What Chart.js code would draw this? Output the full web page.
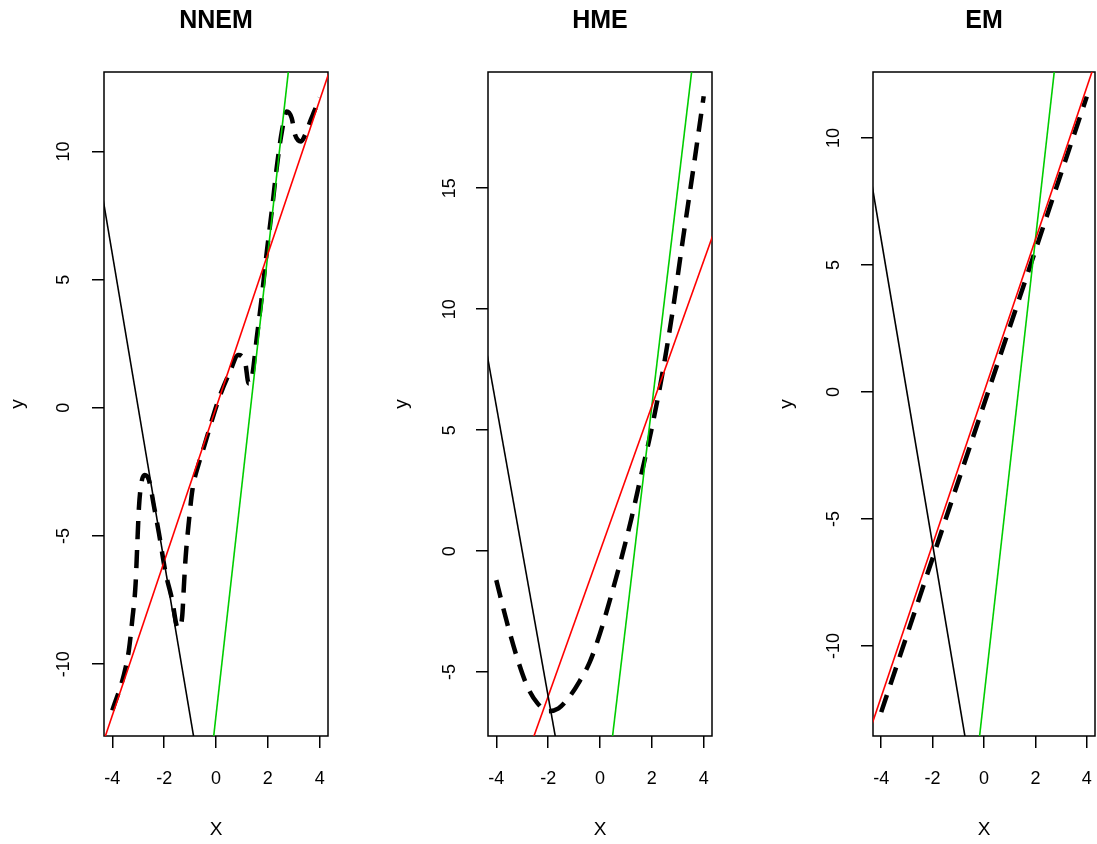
<!DOCTYPE html>
<html>
<head>
<meta charset="utf-8">
<title>NNEM / HME / EM</title>
<script src="https://cdn.jsdelivr.net/npm/chart.js@4.4.1/dist/chart.umd.min.js"></script>
<style>
  html, body { margin: 0; padding: 0; background: #fff; }
  #wrap { position: relative; width: 1097px; height: 844px; overflow: hidden; background: #fff; }
  canvas { position: absolute; top: 0; }
</style>
</head>
<body>
<div id="wrap">
  <canvas id="nnem" width="349" height="844" style="left:-1px"></canvas>
  <canvas id="hme" width="349" height="844" style="left:383px"></canvas>
  <canvas id="em" width="329" height="844" style="left:768px"></canvas>
</div>
<script>
// tick labels
const xTicks = [-4, -2, 0, 2, 4];
const nnemYTicks = [-10, -5, 0, 5, 10];
const hmeYTicks = [-5, 0, 5, 10, 15];
const emYTicks = [-10, -5, 0, 5, 10];

// the three expert lines (two points read on each, same in every panel)
const blackLineX = [-5, 0];
const blackLineY = [12, -18];
const redLineX = [-5, 5];
const redLineY = [-15, 15];
const greenLineX = [-1, 4];
const greenLineY = [-21, 24];

// fitted curves (dashed)
const nnemX = [-4.0, -3.55, -3.36, -3.23, -3.1, -3.04, -2.97, -2.88, -2.75, -2.59, -2.39, -2.2, -1.94, -1.69,
  -1.52, -1.43, -1.3, -1.24, -1.17, -1.04, -0.91, -0.66, -0.46, 0.09, 0.54, 0.86, 1.12, 1.26, 1.38, 1.57,
  1.76, 1.96, 2.15, 2.34, 2.54, 2.73, 2.92, 3.05, 3.28, 3.44, 3.63, 3.8, 4.0];
const nnemY = [-11.8, -10.4, -9.45, -8.28, -6.85, -5.42, -3.85, -2.94, -2.62, -2.81, -3.85, -4.9, -6.46, -7.5,
  -8.48, -8.6, -8.09, -6.98, -5.81, -4.38, -3.2, -2.16, -1.51, 0.3, 1.41, 2.06, 1.8, 0.95, 1.15, 2.71,
  4.27, 6.09, 7.66, 9.35, 10.78, 11.56, 11.3, 10.65, 10.39, 10.65, 11.17, 11.59, 12.1];

const hmeX = [-4.0, -3.6, -3.2, -2.8, -2.4, -2.0, -1.6, -1.2, -0.8, -0.4, 0.0, 0.4, 0.8, 1.2, 1.6, 2.0, 2.4, 2.8, 3.2, 3.6, 4.0];
const hmeY = [-1.2, -2.9, -4.4, -5.6, -6.3, -6.62, -6.5, -6.05, -5.4, -4.6, -3.4, -1.95, -0.4, 1.3, 3.2, 5.1, 7.3, 9.9, 12.9, 15.8, 18.8];

const emX = [-4, -3, -2, -1, 0, 1, 2, 3, 4];
const emY = [-12.6, -9.57, -6.54, -3.51, -0.48, 2.55, 5.58, 8.61, 11.63];

Chart.defaults.font.family = "'Liberation Sans', Arial, Helvetica, sans-serif";
Chart.defaults.color = '#000';

function pts(xs, ys) {
  return xs.map((x, i) => ({ x: x, y: ys[i] }));
}

// R style box round the plot region
const boxPlugin = {
  id: 'box',
  beforeDatasetsDraw(chart) {
    const a = chart.chartArea;
    const ctx = chart.ctx;
    ctx.save();
    ctx.strokeStyle = '#000';
    ctx.lineWidth = 1.5;
    ctx.strokeRect(a.left, a.top, a.right - a.left, a.bottom - a.top);
    ctx.restore();
  }
};

function makePanel(id, title, curveX, curveY, yTicks, yMin, yMax, tickPad, rightPad) {
  const thin = { borderWidth: 1.6, pointRadius: 0, fill: false, order: 0 };
  return new Chart(document.getElementById(id), {
    type: 'line',
    data: {
      datasets: [
        Object.assign({ data: pts(blackLineX, blackLineY), borderColor: '#000000' }, thin),
        Object.assign({ data: pts(redLineX, redLineY), borderColor: '#FF0000' }, thin),
        Object.assign({ data: pts(greenLineX, greenLineY), borderColor: '#00CD00' }, thin),
        {
          data: pts(curveX, curveY),
          borderColor: '#000000',
          borderWidth: 4.5,
          borderDash: [18, 11],
          borderCapStyle: 'butt',
          cubicInterpolationMode: 'monotone',
          pointRadius: 0,
          fill: false,
          order: 1
        }
      ]
    },
    options: {
      responsive: false,
      animation: false,
      events: [],
      layout: { padding: { left: 0, right: rightPad, top: 0, bottom: 0 } },
      plugins: {
        legend: { display: false },
        tooltip: { enabled: false },
        title: {
          display: true,
          fullSize: false,
          text: title,
          color: '#000',
          font: { size: 25, weight: 'bold' },
          padding: { top: 6, bottom: 36 }
        }
      },
      scales: {
        x: {
          type: 'linear',
          min: -4.32,
          max: 4.32,
          afterBuildTicks: s => { s.ticks = xTicks.map(v => ({ value: v })); },
          afterFit: s => { s.height = 108; s.paddingLeft = 0; s.paddingRight = 0; },
          grid: { drawOnChartArea: false, drawTicks: true, tickLength: 12, color: '#000', lineWidth: 1.5 },
          border: { display: false },
          ticks: { color: '#000', font: { size: 18 }, padding: 20, autoSkip: false, maxRotation: 0 },
          title: { display: true, text: 'X', color: '#000', font: { size: 19 }, padding: { top: 0, bottom: 3 } }
        },
        y: {
          type: 'linear',
          min: yMin,
          max: yMax,
          afterBuildTicks: s => { s.ticks = yTicks.map(v => ({ value: v })); },
          afterFit: s => { s.width = 105; s.paddingTop = 0; s.paddingBottom = 0; },
          grid: { drawOnChartArea: false, drawTicks: true, tickLength: 12, color: '#000', lineWidth: 1.5 },
          border: { display: false },
          ticks: {
            color: '#000', font: { size: 18 }, padding: tickPad, autoSkip: false,
            minRotation: 90, maxRotation: 90, crossAlign: 'center'
          },
          title: { display: true, text: 'y', color: '#000', font: { size: 19 }, padding: { top: 7, bottom: 0 } }
        }
      }
    },
    plugins: [boxPlugin]
  });
}

makePanel('nnem', 'NNEM', nnemX, nnemY, nnemYTicks, -12.8, 13.1, 15, 20);
makePanel('hme', 'HME', hmeX, hmeY, hmeYTicks, -7.64, 19.8, 16, 20);
makePanel('em', 'EM', emX, emY, emYTicks, -13.54, 12.6, 14, 2);
</script>
</body>
</html>
